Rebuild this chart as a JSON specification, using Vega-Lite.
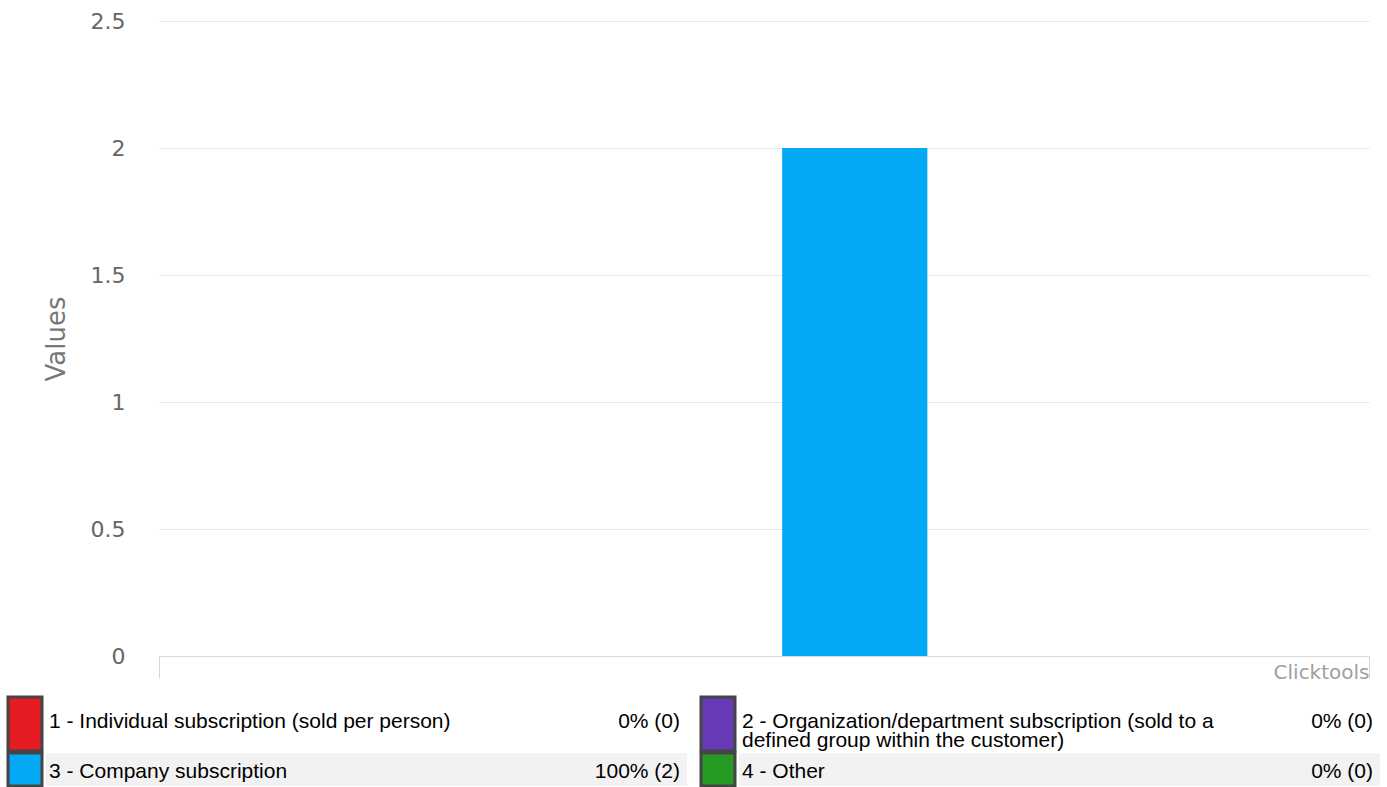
{
  "$schema": "https://vega.github.io/schema/vega-lite/v6.json",
  "background": "white",
  "padding": {"left": 6, "top": 10, "right": 0, "bottom": 0},
  "config": {"view": {"stroke": null}},
  "datasets": {
    "answers": [
      {"question": "Subscription type", "code": 1, "label": "1 - Individual subscription (sold per person)", "count": 0, "share": 0},
      {"question": "Subscription type", "code": 2, "label": "2 - Organization/department subscription (sold to a\ndefined group within the customer)", "count": 0, "share": 0},
      {"question": "Subscription type", "code": 3, "label": "3 - Company subscription", "count": 2, "share": 1},
      {"question": "Subscription type", "code": 4, "label": "4 - Other", "count": 0, "share": 0}
    ]
  },
  "spacing": 13,
  "vconcat": [
    {
      "spacing": 0,
      "hconcat": [
        {"width": 35, "height": 10, "data": {"values": [{"a": 1}]}, "mark": {"type": "rect", "opacity": 0}, "encoding": {}},
        {
          "width": 1210,
          "height": 635,
          "data": {"name": "answers"},
          "mark": {"type": "bar"},
          "encoding": {
            "x": {"field": "question", "type": "nominal", "scale": {"type": "band", "paddingInner": 0, "paddingOuter": 0},
              "axis": {"labels": false, "tickBand": "extent", "tickSize": 22, "tickColor": "#ccd6eb", "domainColor": "#d9d9d9",
                "title": "Clicktools", "titleAnchor": "end", "titleFont": "DejaVu Sans", "titleFontSize": 20, "titleFontWeight": "normal",
                "titleColor": "#a0a0a0", "titleBaseline": "alphabetic", "titleY": 22}},
            "xOffset": {"field": "code", "type": "nominal", "scale": {"domain": [0, 1, 2, 3, 4, 5], "paddingInner": 0.2, "paddingOuter": 0.4333}},
            "y": {"field": "count", "type": "quantitative", "scale": {"domain": [0, 2.5], "nice": false},
              "axis": {"values": [0, 0.5, 1, 1.5, 2, 2.5], "format": "~g", "domain": false, "ticks": false, "gridColor": "#e6e6e6",
                "labelFont": "DejaVu Sans", "labelFontSize": 22, "labelColor": "#666666", "labelPadding": 34,
                "title": "Values", "titleFont": "DejaVu Sans", "titleFontSize": 26, "titleFontWeight": "normal", "titleColor": "#777777", "titlePadding": 21}},
            "color": {"field": "code", "type": "nominal", "scale": {"domain": [1, 2, 3, 4], "range": ["#e51c23", "#673ab7", "#03a9f4", "#259b24"]}, "legend": null}
          }
        }
      ]
    },
    {
      "spacing": -3,
      "vconcat": [
        {
          "spacing": 12,
          "hconcat": [
            {
              "spacing": 2,
              "hconcat": [
                {"width": 34, "height": 54, "data": {"name": "answers"}, "transform": [{"filter": "datum.code == 1"}],
                  "mark": {"type": "rect", "stroke": "#444444", "strokeWidth": 3},
                  "encoding": {"color": {"field": "code", "type": "nominal", "scale": {"domain": [1, 2, 3, 4], "range": ["#e51c23", "#673ab7", "#03a9f4", "#259b24"]}, "legend": null}}},
                {"width": 641, "height": 54, "data": {"name": "answers"},
                  "transform": [{"filter": "datum.code == 1"}, {"calculate": "format(datum.share, '.0%') + ' (' + datum.count + ')'", "as": "shareText"}],
                  "layer": [
                    {"mark": {"type": "text", "align": "left", "baseline": "middle", "dx": 3, "dy": -2, "font": "Liberation Sans", "fontSize": 21, "color": "#000000", "lineBreak": "\n", "lineHeight": 19},
                      "encoding": {"x": {"field": "code", "type": "nominal", "bandPosition": 0, "axis": null, "scale": {"type": "band", "paddingInner": 0, "paddingOuter": 0}}, "text": {"field": "label"}}},
                    {"mark": {"type": "text", "align": "right", "baseline": "middle", "dx": -7, "dy": -2, "font": "Liberation Sans", "fontSize": 21, "color": "#000000"},
                      "encoding": {"x": {"field": "code", "type": "nominal", "bandPosition": 1, "axis": null}, "text": {"field": "shareText"}}}
                  ]}
              ]
            },
            {
              "spacing": 2,
              "hconcat": [
                {"width": 34, "height": 54, "data": {"name": "answers"}, "transform": [{"filter": "datum.code == 2"}],
                  "mark": {"type": "rect", "stroke": "#444444", "strokeWidth": 3},
                  "encoding": {"color": {"field": "code", "type": "nominal", "scale": {"domain": [1, 2, 3, 4], "range": ["#e51c23", "#673ab7", "#03a9f4", "#259b24"]}, "legend": null}}},
                {"width": 641, "height": 54, "data": {"name": "answers"},
                  "transform": [{"filter": "datum.code == 2"}, {"calculate": "format(datum.share, '.0%') + ' (' + datum.count + ')'", "as": "shareText"}],
                  "layer": [
                    {"mark": {"type": "text", "align": "left", "baseline": "middle", "dx": 3, "dy": -2, "font": "Liberation Sans", "fontSize": 21, "color": "#000000", "lineBreak": "\n", "lineHeight": 19},
                      "encoding": {"x": {"field": "code", "type": "nominal", "bandPosition": 0, "axis": null, "scale": {"type": "band", "paddingInner": 0, "paddingOuter": 0}}, "text": {"field": "label"}}},
                    {"mark": {"type": "text", "align": "right", "baseline": "middle", "dx": -7, "dy": -2, "font": "Liberation Sans", "fontSize": 21, "color": "#000000"},
                      "encoding": {"x": {"field": "code", "type": "nominal", "bandPosition": 1, "axis": null}, "text": {"field": "shareText"}}}
                  ]}
              ]
            }
          ]
        },
        {
          "spacing": 12,
          "hconcat": [
            {
              "spacing": 2,
              "hconcat": [
                {"width": 34, "height": 33, "data": {"name": "answers"}, "transform": [{"filter": "datum.code == 3"}],
                  "mark": {"type": "rect", "stroke": "#444444", "strokeWidth": 3},
                  "encoding": {"color": {"field": "code", "type": "nominal", "scale": {"domain": [1, 2, 3, 4], "range": ["#e51c23", "#673ab7", "#03a9f4", "#259b24"]}, "legend": null}}},
                {"width": 641, "height": 33, "data": {"name": "answers"},
                  "transform": [{"filter": "datum.code == 3"}, {"calculate": "format(datum.share, '.0%') + ' (' + datum.count + ')'", "as": "shareText"}],
                  "layer": [
                    {"mark": {"type": "rect", "color": "#f2f2f2"}, "encoding": {}},
                    {"mark": {"type": "text", "align": "left", "baseline": "middle", "dx": 3, "dy": 2, "font": "Liberation Sans", "fontSize": 21, "color": "#000000", "lineBreak": "\n", "lineHeight": 19},
                      "encoding": {"x": {"field": "code", "type": "nominal", "bandPosition": 0, "axis": null, "scale": {"type": "band", "paddingInner": 0, "paddingOuter": 0}}, "text": {"field": "label"}}},
                    {"mark": {"type": "text", "align": "right", "baseline": "middle", "dx": -7, "dy": 2, "font": "Liberation Sans", "fontSize": 21, "color": "#000000"},
                      "encoding": {"x": {"field": "code", "type": "nominal", "bandPosition": 1, "axis": null}, "text": {"field": "shareText"}}}
                  ]}
              ]
            },
            {
              "spacing": 2,
              "hconcat": [
                {"width": 34, "height": 33, "data": {"name": "answers"}, "transform": [{"filter": "datum.code == 4"}],
                  "mark": {"type": "rect", "stroke": "#444444", "strokeWidth": 3},
                  "encoding": {"color": {"field": "code", "type": "nominal", "scale": {"domain": [1, 2, 3, 4], "range": ["#e51c23", "#673ab7", "#03a9f4", "#259b24"]}, "legend": null}}},
                {"width": 641, "height": 33, "data": {"name": "answers"},
                  "transform": [{"filter": "datum.code == 4"}, {"calculate": "format(datum.share, '.0%') + ' (' + datum.count + ')'", "as": "shareText"}],
                  "layer": [
                    {"mark": {"type": "rect", "color": "#f2f2f2"}, "encoding": {}},
                    {"mark": {"type": "text", "align": "left", "baseline": "middle", "dx": 3, "dy": 2, "font": "Liberation Sans", "fontSize": 21, "color": "#000000", "lineBreak": "\n", "lineHeight": 19},
                      "encoding": {"x": {"field": "code", "type": "nominal", "bandPosition": 0, "axis": null, "scale": {"type": "band", "paddingInner": 0, "paddingOuter": 0}}, "text": {"field": "label"}}},
                    {"mark": {"type": "text", "align": "right", "baseline": "middle", "dx": -7, "dy": 2, "font": "Liberation Sans", "fontSize": 21, "color": "#000000"},
                      "encoding": {"x": {"field": "code", "type": "nominal", "bandPosition": 1, "axis": null}, "text": {"field": "shareText"}}}
                  ]}
              ]
            }
          ]
        }
      ]
    }
  ]
}
